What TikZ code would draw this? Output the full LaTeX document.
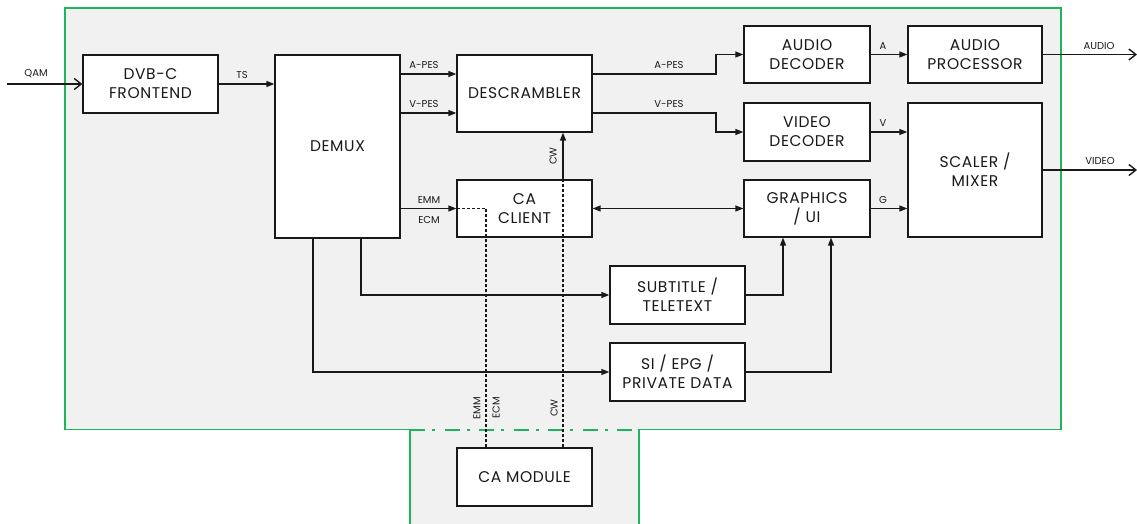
\documentclass[tikz,border=0pt]{standalone}
\usepackage{fontspec}
\setmainfont{Poppins}
\usetikzlibrary{arrows.meta,calc}
\definecolor{grn}{RGB}{30,180,90}
\definecolor{bgc}{RGB}{241,241,241}
\definecolor{ink}{RGB}{25,25,25}
\begin{document}
\begin{tikzpicture}[x=1pt,y=-1pt,
  blk/.style={draw=ink,fill=white,line width=1.3pt,align=center,text=ink,
    font=\fontsize{15.5}{19}\selectfont\addfontfeatures{LetterSpace=4},inner sep=0pt},
  conn/.style={draw=ink,line width=1.4pt,-{Triangle[length=8pt,width=6pt]}},
  biconn/.style={draw=ink,line width=1.4pt,{Triangle[length=8pt,width=6pt]}-{Triangle[length=8pt,width=6pt]}},
  openconn/.style={draw=ink,line width=1.4pt,-{Straight Barb[length=7pt,width=11pt,line width=1.4pt]}},
  dotline/.style={draw=ink,line width=1.3pt,dash pattern=on 3pt off 2pt},
  grline/.style={draw=grn,line width=1.8pt},
  lbl/.style={font=\fontsize{10}{11}\selectfont,text=ink,inner sep=0pt},
  rlbl/.style={lbl,rotate=90}]
\useasboundingbox (0,0) rectangle (1137,524);
% background region
\fill[bgc] (65,8) -- (1061,8) -- (1061,429.5) -- (639,429.5) -- (639,524) -- (410,524) -- (410,429.5) -- (65,429.5) -- cycle;
\draw[grline] (410,524) -- (410,429.5) -- (65,429.5) -- (65,8) -- (1061,8) -- (1061,429.5) -- (639,429.5) -- (639,524);
% boxes
\node[blk,minimum width=135pt,minimum height=58pt] (fe) at (150.5,84) {DVB-C\\FRONTEND};
\node[blk,minimum width=125pt,minimum height=183pt] (demux) at (337.5,146.5) {DEMUX};
\node[blk,minimum width=135pt,minimum height=77pt] (desc) at (524.5,93.5) {DESCRAMBLER};
\node[blk,minimum width=135pt,minimum height=57pt] (cac) at (524.5,208.5) {CA\\CLIENT};
\node[blk,minimum width=126pt,minimum height=57pt] (adec) at (807,54.5) {AUDIO\\DECODER};
\node[blk,minimum width=126pt,minimum height=58pt] (vdec) at (807,132) {VIDEO\\DECODER};
\node[blk,minimum width=126pt,minimum height=57pt] (gfx) at (807,208.5) {GRAPHICS\\/ UI};
\node[blk,minimum width=134pt,minimum height=57pt] (aproc) at (975,54.5) {AUDIO\\PROCESSOR};
\node[blk,minimum width=134pt,minimum height=134pt] (scaler) at (975,170) {SCALER /\\MIXER};
\node[blk,minimum width=135pt,minimum height=58pt] (sub) at (677.5,295) {SUBTITLE /\\TELETEXT};
\node[blk,minimum width=135pt,minimum height=58pt] (si) at (677.5,372) {SI / EPG /\\PRIVATE DATA};
\node[blk,minimum width=135pt,minimum height=58pt] (cam) at (524.5,477) {CA MODULE};
% helper coordinates
\coordinate (qin) at (7,84);
\coordinate (aout) at (1137,54.5);
\coordinate (vout) at (1137,170);
\coordinate (ap) at ([yshift=19.5pt]desc.west);
\coordinate (vp) at ([yshift=-19.5pt]desc.west);
\coordinate (jx) at (716,0);
\coordinate (cwx) at (563,0);
\coordinate (emx) at (486,0);
\coordinate (dx1) at (313,0);
\coordinate (dx2) at (361,0);
\coordinate (gx1) at (783,0);
\coordinate (gx2) at (831,0);
% connectors
\draw[openconn] (qin) -- (fe.west);
\draw[conn] (fe.east) -- (demux.west |- fe.east);
\draw[conn] (demux.east |- ap) -- (ap);
\draw[conn] (demux.east |- vp) -- (vp);
\draw[conn] (demux.east |- cac.west) -- (cac.west);
\draw[conn] (desc.east |- ap) -- (jx |- ap) -- (jx |- adec.west) -- (adec.west);
\draw[conn] (desc.east |- vp) -- (jx |- vp) -- (jx |- vdec.west) -- (vdec.west);
\draw[biconn] (cac.east) -- (gfx.west);
\draw[conn] (adec.east) -- (aproc.west);
\draw[conn] (vdec.east) -- (scaler.west |- vdec.east);
\draw[conn] (gfx.east) -- (scaler.west |- gfx.east);
\draw[openconn] (aproc.east) -- (aout);
\draw[openconn] (scaler.east) -- (vout);
\draw[conn] (demux.south -| dx2) |- (sub.west);
\draw[conn] (demux.south -| dx1) |- (si.west);
\draw[conn] (sub.east) -| (gx1 |- gfx.south);
\draw[conn] (si.east) -| (gx2 |- gfx.south);
\draw[conn] (cac.north -| cwx) -- (desc.south -| cwx);
% dash-dot boundary of the CA module slot (filled bars)
\foreach \i in {0,...,6}{
  \fill[grn] ({410+34.5*\i},428.5) rectangle ({425+34.5*\i},430.5);
}
\foreach \i in {0,...,5}{
  \fill[grn] ({432+34.5*\i},428.5) rectangle ({435+34.5*\i},430.5);
}
\draw[dotline] (cam.north -| cwx) -- (cac.north -| cwx);
\draw[dotline] (cam.north -| emx) -- (emx |- cac.west) -- (cac.west);
% labels
\node[lbl] (lqam) at (36,74) {QAM};
\node[lbl] (lts) at (242,75) {TS};
\node[lbl] (lap1) at (424,65.5) {A-PES};
\node[lbl] (lvp1) at (424,104) {V-PES};
\node[lbl] (lemm1) at (429,200) {EMM};
\node[lbl] (lecm1) at (429,219.5) {ECM};
\node[lbl] (lap2) at (669,65) {A-PES};
\node[lbl] (lvp2) at (669,104) {V-PES};
\node[lbl] (la) at (883,46.5) {A};
\node[lbl] (lv) at (883,123) {V};
\node[lbl] (lg) at (883,200) {G};
\node[lbl] (laud) at (1099,46) {AUDIO};
\node[lbl] (lvid) at (1100,161) {VIDEO};
\node[rlbl] (lcw1) at (553,156) {CW};
\node[rlbl] (lcw2) at (554,408) {CW};
\node[rlbl] (lemm2) at (477,408) {EMM};
\node[rlbl] (lecm2) at (496,408) {ECM};
\end{tikzpicture}
\end{document}
